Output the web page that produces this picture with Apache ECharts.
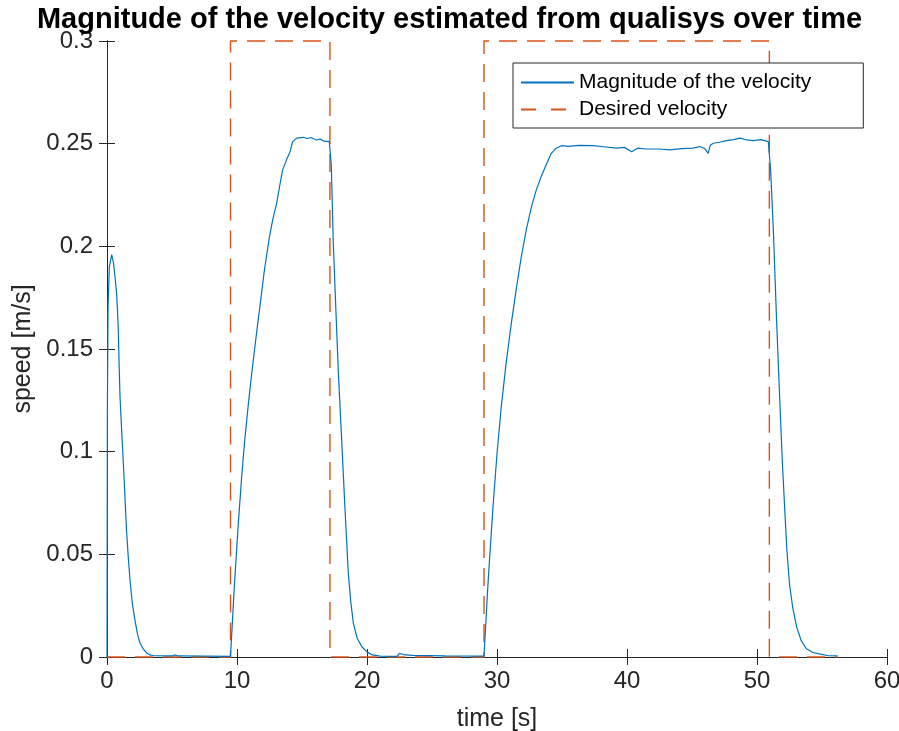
<!DOCTYPE html>
<html>
<head>
<meta charset="utf-8">
<title>Magnitude of the velocity</title>
<script src="https://cdn.jsdelivr.net/npm/echarts@6/dist/echarts.min.js"></script>
<style>
  html, body { margin: 0; padding: 0; background: #fff; }
  #chart { width: 899px; height: 731px; }
</style>
</head>
<body>
<div id="chart"></div>
<script>
// magnitude of the velocity
const velTime = [
  0, 0.03, 0.08, 0.18, 0.36, 0.5, 0.65, 0.74, 0.8, 0.87, 0.93, 1.0, 1.13, 1.26, 1.38, 1.5, 1.63, 1.77, 1.95,
  2.15, 2.35, 2.54, 2.8, 3.05, 3.3, 3.6,
  5.0, 5.2, 5.5, 9.5,
  9.8, 10.1, 10.35, 10.6, 10.87, 11.13, 11.45, 11.77, 12.1, 12.48, 12.75, 13.05, 13.3, 13.5, 13.8, 14.08, 14.2,
  14.28, 14.6, 15.1, 15.4, 15.7, 16.1, 16.4, 16.7, 17.1, 17.2,
  17.25, 17.3, 17.4, 17.6, 17.8, 18.05, 18.3, 18.43, 18.56, 18.75, 18.95, 19.25, 19.6, 20.0, 20.4,
  21.0, 22.3, 22.5, 22.8, 23.5, 26.0, 29.0,
  29.3, 29.69, 30.0, 30.33, 30.7, 31.1, 31.5, 31.87, 32.25, 32.64, 33.0, 33.4, 33.8, 34.18, 34.55, 34.95,
  35.5, 36.3, 37.4, 38.2, 39.2, 39.8, 40.36, 40.8,
  41.5, 42.5, 43.3, 44.2, 45.1, 45.6, 46.0, 46.25, 46.4, 46.64, 47.2, 47.67, 48.2, 48.7, 49.2, 49.7, 50.3, 50.87, 50.95,
  51.05, 51.25, 51.5, 51.77, 51.95, 52.15, 52.3, 52.5, 52.75, 53.05, 53.4, 53.8, 54.3, 54.8, 55.5, 56.2
];
const velValue = [
  0, 0.12, 0.17, 0.19, 0.196, 0.192, 0.183, 0.177, 0.17, 0.159, 0.143, 0.127, 0.11, 0.094, 0.078, 0.062, 0.049, 0.0375, 0.026,
  0.018, 0.011, 0.0068, 0.0038, 0.002, 0.001, 0.0006,
  0.0005, 0.001, 0.0005, 0.0003,
  0.035, 0.065, 0.087, 0.106, 0.123, 0.138, 0.155, 0.171, 0.188, 0.204, 0.213, 0.221, 0.23, 0.237, 0.242, 0.246, 0.249,
  0.251, 0.2527, 0.2531, 0.2525, 0.253, 0.2518, 0.2522, 0.2512, 0.251, 0.2505,
  0.24, 0.228, 0.203, 0.17, 0.138, 0.106, 0.073, 0.057, 0.041, 0.027, 0.0165, 0.009, 0.005, 0.0025, 0.001,
  0.0004, 0.0003, 0.0018, 0.0012, 0.0008, 0.0005, 0.0004,
  0.035, 0.073, 0.099, 0.122, 0.143, 0.1625, 0.18, 0.195, 0.208, 0.219, 0.227, 0.234, 0.24, 0.2453, 0.2478, 0.249,
  0.2487, 0.2492, 0.249, 0.2485, 0.2478, 0.2482, 0.2461, 0.2478,
  0.2474, 0.2474, 0.247, 0.2476, 0.2478, 0.2486, 0.2475, 0.2453, 0.2492, 0.2502, 0.2508, 0.2515, 0.252, 0.2527, 0.2518, 0.2515, 0.252, 0.251, 0.2505,
  0.237, 0.209, 0.165, 0.122, 0.095, 0.07, 0.052, 0.0355, 0.024, 0.0146, 0.008, 0.004, 0.0022, 0.0015, 0.0006, 0.0005
];

// desired velocity (step profile)
const desTime = [0, 9.5, 9.5, 17.15, 17.15, 29.0, 29.0, 50.95, 50.95, 56.2];
const desValue = [0, 0, 0.3, 0.3, 0, 0, 0.3, 0.3, 0, 0];

const xTicks = [0, 10, 20, 30, 40, 50, 60];
const yTicks = [0, 0.05, 0.1, 0.15, 0.2, 0.25, 0.3];

const zip = (a, b) => a.map((t, i) => [t, b[i]]);

const axisColor = '#262626';
const font = 'Liberation Sans, Arial, Helvetica, sans-serif';

const baseX = {
  type: 'value',
  min: xTicks[0],
  max: xTicks[xTicks.length - 1],
  interval: 10,
  axisLine: {lineStyle: {color: axisColor, width: 1}},
  axisTick: {inside: true, length: 8, lineStyle: {color: axisColor}},
  splitLine: {show: false}
};
const baseY = {
  type: 'value',
  min: yTicks[0],
  max: yTicks[yTicks.length - 1],
  interval: 0.05,
  axisLine: {lineStyle: {color: axisColor, width: 1}},
  axisTick: {inside: true, length: 8, lineStyle: {color: axisColor}},
  splitLine: {show: false}
};

const chart = echarts.init(document.getElementById('chart'));
chart.setOption({
  animation: false,
  backgroundColor: '#fff',
  textStyle: {fontFamily: font},
  title: {
    text: 'Magnitude of the velocity estimated from qualisys over time',
    left: 'center',
    top: 0,
    textStyle: {fontFamily: font, fontSize: 29, fontWeight: 'bold', color: '#000'}
  },
  grid: {left: 107, right: 12, top: 41, bottom: 74, outerBoundsMode: 'none', containLabel: false},
  legend: {
    orient: 'vertical',
    left: 513,
    top: 63,
    padding: [9, 52, 8, 7],
    itemWidth: 53,
    itemHeight: 14,
    itemGap: 6,
    borderColor: axisColor,
    borderWidth: 1,
    backgroundColor: '#fff',
    itemStyle: {opacity: 0},
    lineStyle: {type: [15, 15]},
    textStyle: {fontFamily: font, fontSize: 21, color: '#000'},
    data: [
      {name: 'Magnitude of the velocity', lineStyle: {type: 'solid'}},
      {name: 'Desired velocity'}
    ]
  },
  xAxis: [
    Object.assign({}, baseX, {
      position: 'bottom',
      name: 'time [s]',
      nameLocation: 'middle',
      nameGap: 50,
      nameTextStyle: {fontFamily: font, fontSize: 25, color: axisColor},
      axisLabel: {margin: 12, fontFamily: font, fontSize: 24, color: axisColor}
    }),
    Object.assign({}, baseX, {position: 'top', axisLabel: {show: false}})
  ],
  yAxis: [
    Object.assign({}, baseY, {
      position: 'left',
      name: 'speed [m/s]',
      nameLocation: 'middle',
      nameGap: 55,
      nameTextStyle: {fontFamily: font, fontSize: 25, color: axisColor},
      axisLabel: {margin: 14, fontFamily: font, fontSize: 24, color: axisColor}
    }),
    Object.assign({}, baseY, {position: 'right', axisLabel: {show: false}})
  ],
  series: [
    {
      name: 'Magnitude of the velocity',
      type: 'line',
      data: zip(velTime, velValue),
      symbol: 'none',
      smooth: false,
      lineStyle: {color: '#0072BD', width: 1.2},
      itemStyle: {color: '#0072BD'},
      z: 3
    },
    {
      name: 'Desired velocity',
      type: 'line',
      data: zip(desTime, desValue),
      symbol: 'none',
      clip: false,
      lineStyle: {color: '#D95319', width: 1.4, type: [18, 10], cap: 'butt', join: 'miter'},
      itemStyle: {color: '#D95319'},
      z: 2
    }
  ]
});
</script>
</body>
</html>
